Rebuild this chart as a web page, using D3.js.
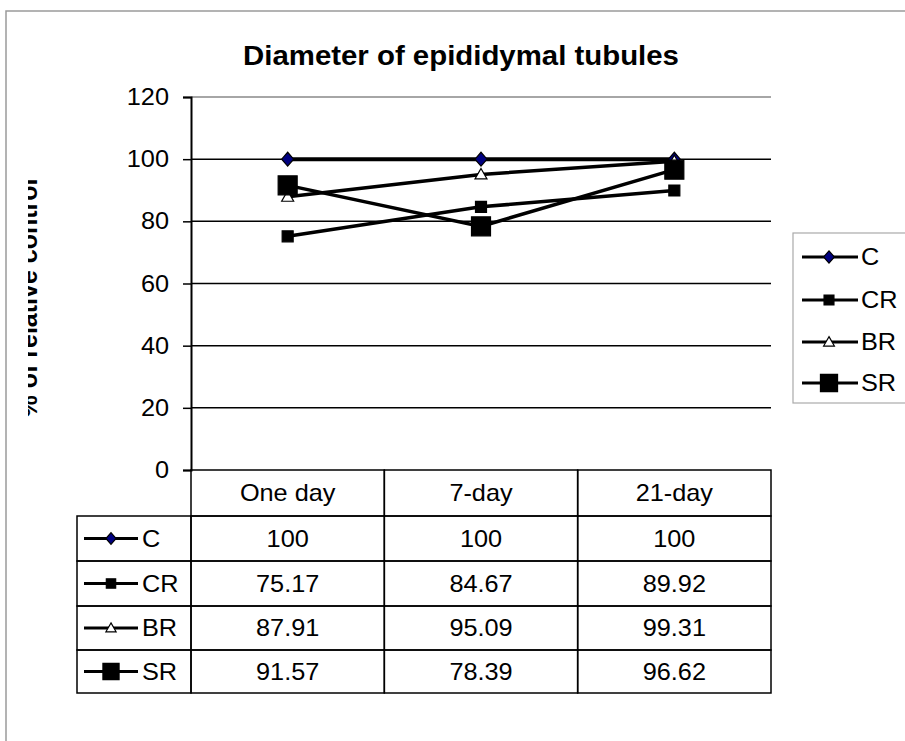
<html>
<head>
<script src="https://d3js.org/d3.v7.min.js"></script>
<style>
  body { margin: 0; background: #fff; }
  text { font-family: "Liberation Sans", Arial, sans-serif; fill: #000; }
</style>
</head>
<body>
<script>
// data
var categories = ['One day', '7-day', '21-day'];
var seriesNames = ['C', 'CR', 'BR', 'SR'];
var valC  = [100, 100, 100];
var valCR = [75.17, 84.67, 89.92];
var valBR = [87.91, 95.09, 99.31];
var valSR = [91.57, 78.39, 96.62];
var yTicks = [0, 20, 40, 60, 80, 100, 120];

var series = [
  {name: 'C',  values: valC,  marker: 'diamond', size: 12, fill: '#000080'},
  {name: 'CR', values: valCR, marker: 'square',  size: 11, fill: '#000'},
  {name: 'BR', values: valBR, marker: 'triangle', size: 12, fill: '#fff'},
  {name: 'SR', values: valSR, marker: 'square',  size: 19, fill: '#000'}
];

var W = 905, H = 741;
var plotL = 191, plotR = 771, plotT = 97, plotB = 470;
var SX = 1.1; // the original text is a bit wide

var svg = d3.select('body').append('svg')
  .attr('width', W).attr('height', H);

svg.append('rect').attr('width', W).attr('height', H).attr('fill', '#fff');

// outer chart border (only top/left visible)
svg.append('rect')
  .attr('x', 6).attr('y', 11).attr('width', W + 10).attr('height', H + 10)
  .attr('fill', 'none').attr('stroke', '#9a9a9a').attr('stroke-width', 1.5);

var x = d3.scaleBand().domain(categories).range([plotL, plotR]);
var y = d3.scaleLinear().domain([0, 120]).range([plotB, plotT]);

function cx(c) { return x(c) + x.bandwidth() / 2; }

function markerPath(type, s) {
  var h = s / 2;
  if (type == 'diamond') {
    var hh = h * 1.15;
    return 'M0,' + (-hh) + 'L' + h + ',0L0,' + hh + 'L' + (-h) + ',0Z';
  }
  if (type == 'triangle') {
    return 'M0,' + (-h) + 'L' + h + ',' + (h * 0.75) + 'L' + (-h) + ',' + (h * 0.75) + 'Z';
  }
  return 'M' + (-h) + ',' + (-h) + 'H' + h + 'V' + h + 'H' + (-h) + 'Z';
}

// wide text helper
function label(parent, tx, ty, str, size, anchor) {
  return parent.append('text')
    .attr('transform', 'translate(' + tx + ',' + ty + ') scale(' + SX + ',1)')
    .attr('text-anchor', anchor || 'start')
    .style('font-size', size + 'px')
    .text(str);
}

// title
svg.append('text')
  .attr('transform', 'translate(461,65) scale(1.05,1)')
  .attr('text-anchor', 'middle')
  .style('font-size', '28px').style('font-weight', 'bold')
  .text('Diameter of epididymal tubules');

// y axis title, clipped on the left like the original
svg.append('clipPath').attr('id', 'ytclip')
  .append('rect').attr('x', 28).attr('y', 0).attr('width', 40).attr('height', H);
svg.append('g').attr('clip-path', 'url(#ytclip)')
  .append('text')
  .attr('transform', 'translate(37,298) rotate(-90)')
  .attr('text-anchor', 'middle')
  .style('font-size', '25px').style('font-weight', 'bold')
  .text('% of relative control');

// gridlines
svg.append('g').selectAll('line')
  .data(yTicks.filter(function(d){ return d > 0; }))
  .enter().append('line')
  .attr('x1', plotL).attr('x2', plotR)
  .attr('y1', function(d){ return y(d); }).attr('y2', function(d){ return y(d); })
  .attr('stroke', function(d){ return d == 120 ? '#888' : '#000'; })
  .attr('stroke-width', 1.5);

// y axis
var yAxis = d3.axisLeft(y).tickValues(yTicks).tickSize(8).tickFormat('');
var gy = svg.append('g').attr('transform', 'translate(' + plotL + ',0)').call(yAxis);
gy.select('.domain').attr('stroke', '#000').attr('stroke-width', 2);
gy.selectAll('.tick line').attr('stroke', '#000').attr('stroke-width', 1.5);
yTicks.forEach(function(t) {
  label(svg, 169, y(t) + 8, t, 23, 'end');
});

// lines
var line = d3.line()
  .x(function(d, i){ return cx(categories[i]); })
  .y(function(d){ return y(d); });

series.forEach(function(s) {
  svg.append('path')
    .datum(s.values)
    .attr('d', line)
    .attr('fill', 'none').attr('stroke', '#000')
    .attr('stroke-width', s.name == 'C' ? 4 : 3.5);
});
series.forEach(function(s) {
  svg.append('g').selectAll('path')
    .data(s.values).enter().append('path')
    .attr('d', markerPath(s.marker, s.size))
    .attr('transform', function(d, i){ return 'translate(' + cx(categories[i]) + ',' + y(d) + ')'; })
    .attr('fill', s.fill).attr('stroke', '#000').attr('stroke-width', 1.2);
});

// data table under the plot
var tableL = 77;
var rowTops = [470, 516, 561, 606, 650];
var rowH = [46, 45, 45, 44, 43];

var tbl = svg.append('g');
// header row
categories.forEach(function(c) {
  tbl.append('rect').attr('x', x(c)).attr('y', rowTops[0])
    .attr('width', x.bandwidth()).attr('height', rowH[0])
    .attr('fill', 'none').attr('stroke', '#000').attr('stroke-width', 1.5);
  label(tbl, cx(c), rowTops[0] + rowH[0] / 2 + 8, c, 23, 'middle');
});
series.forEach(function(s, r) {
  var top = rowTops[r + 1], h = rowH[r + 1], mid = top + h / 2;
  tbl.append('rect').attr('x', tableL).attr('y', top)
    .attr('width', plotL - tableL).attr('height', h)
    .attr('fill', 'none').attr('stroke', '#000').attr('stroke-width', 1.5);
  tbl.append('line').attr('x1', 84).attr('x2', 138).attr('y1', mid).attr('y2', mid)
    .attr('stroke', '#000').attr('stroke-width', 3);
  tbl.append('path').attr('d', markerPath(s.marker, s.size * 0.85))
    .attr('transform', 'translate(111,' + mid + ')')
    .attr('fill', s.fill).attr('stroke', '#000').attr('stroke-width', 1.2);
  label(tbl, 142, mid + 8, s.name, 23);
  categories.forEach(function(c, i) {
    tbl.append('rect').attr('x', x(c)).attr('y', top)
      .attr('width', x.bandwidth()).attr('height', h)
      .attr('fill', 'none').attr('stroke', '#000').attr('stroke-width', 1.5);
    label(tbl, cx(c), mid + 8, s.values[i], 23, 'middle');
  });
});

// legend
var lg = svg.append('g');
lg.append('rect').attr('x', 793).attr('y', 233).attr('width', 130).attr('height', 170)
  .attr('fill', '#fff').attr('stroke', '#aaa').attr('stroke-width', 1.2);
var legY = [257, 300, 342, 383];
series.forEach(function(s, i) {
  lg.append('line').attr('x1', 802).attr('x2', 858).attr('y1', legY[i]).attr('y2', legY[i])
    .attr('stroke', '#000').attr('stroke-width', 3);
  lg.append('path').attr('d', markerPath(s.marker, s.size * 0.9))
    .attr('transform', 'translate(829,' + legY[i] + ')')
    .attr('fill', s.fill).attr('stroke', '#000').attr('stroke-width', 1.2);
  label(lg, 861, legY[i] + 8, s.name, 23);
});
</script>
</body>
</html>
